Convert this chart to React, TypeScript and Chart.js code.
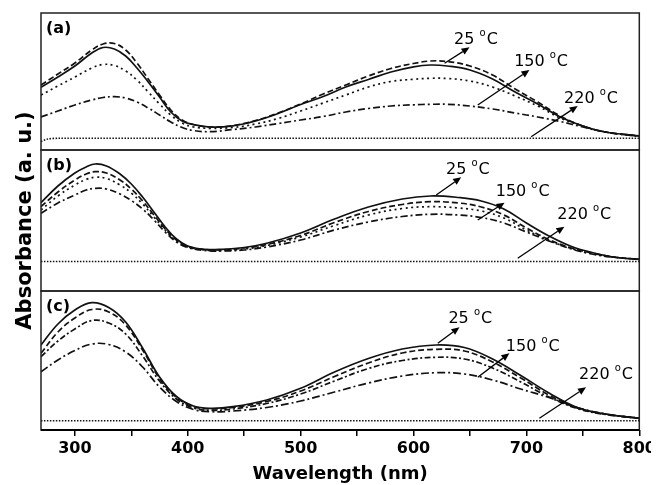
import React, { useEffect, useRef } from "react";
import { Chart, registerables } from "chart.js";

Chart.register(...registerables);

// ---------- data (wavelength in nm, absorbance in a.u.) ----------
const wlA = [270, 285, 300, 315, 325, 335, 345, 355, 365, 375, 385, 395, 405, 420, 440, 460, 480, 500, 520, 540, 560, 580, 600, 615, 630, 650, 670, 690, 710, 730, 750, 770, 800];
const aSolid = [0.627, 0.73, 0.84, 0.97, 1.025, 1.01, 0.94, 0.82, 0.68, 0.53, 0.38, 0.29, 0.255, 0.23, 0.242, 0.29, 0.365, 0.455, 0.535, 0.63, 0.705, 0.78, 0.832, 0.85, 0.84, 0.8, 0.71, 0.58, 0.46, 0.33, 0.24, 0.18, 0.14];
const aDash = [0.65, 0.76, 0.87, 1.0, 1.06, 1.065, 1.0, 0.87, 0.71, 0.55, 0.4, 0.3, 0.255, 0.23, 0.245, 0.295, 0.37, 0.46, 0.56, 0.65, 0.74, 0.815, 0.865, 0.89, 0.885, 0.84, 0.75, 0.61, 0.48, 0.34, 0.24, 0.18, 0.14];
const aDot = [0.55, 0.64, 0.73, 0.82, 0.855, 0.845, 0.79, 0.7, 0.58, 0.46, 0.35, 0.27, 0.23, 0.217, 0.225, 0.26, 0.315, 0.39, 0.47, 0.55, 0.63, 0.685, 0.707, 0.717, 0.715, 0.69, 0.63, 0.54, 0.44, 0.32, 0.24, 0.18, 0.14];
const aDashDot = [0.33, 0.39, 0.45, 0.5, 0.525, 0.533, 0.52, 0.48, 0.42, 0.35, 0.28, 0.225, 0.195, 0.183, 0.205, 0.23, 0.265, 0.3, 0.335, 0.38, 0.415, 0.44, 0.452, 0.457, 0.457, 0.44, 0.41, 0.37, 0.33, 0.285, 0.23, 0.18, 0.135];
const baseWlA = [270, 276, 285, 800];
const baseA = [0.085, 0.11, 0.117, 0.117];

const wlB = [270, 285, 300, 310, 318, 328, 340, 350, 360, 370, 380, 390, 400, 415, 430, 450, 470, 500, 530, 560, 590, 615, 640, 660, 680, 700, 720, 740, 760, 780, 800];
const bSolid = [0.883, 1.05, 1.18, 1.24, 1.27, 1.25, 1.17, 1.07, 0.94, 0.79, 0.64, 0.52, 0.45, 0.417, 0.417, 0.435, 0.477, 0.58, 0.72, 0.84, 0.92, 0.95, 0.935, 0.9, 0.82, 0.68, 0.55, 0.445, 0.38, 0.335, 0.317];
const bDash = [0.843, 0.99, 1.11, 1.17, 1.193, 1.18, 1.11, 1.02, 0.9, 0.76, 0.62, 0.51, 0.445, 0.415, 0.412, 0.43, 0.465, 0.555, 0.685, 0.795, 0.865, 0.893, 0.88, 0.84, 0.76, 0.63, 0.515, 0.43, 0.375, 0.335, 0.317];
const bDot = [0.81, 0.95, 1.06, 1.115, 1.137, 1.125, 1.06, 0.98, 0.87, 0.74, 0.61, 0.5, 0.44, 0.41, 0.405, 0.42, 0.455, 0.54, 0.655, 0.76, 0.825, 0.843, 0.83, 0.8, 0.73, 0.61, 0.505, 0.425, 0.37, 0.335, 0.317];
const bDashDot = [0.777, 0.88, 0.96, 1.01, 1.027, 1.02, 0.97, 0.905, 0.82, 0.71, 0.59, 0.49, 0.435, 0.405, 0.4, 0.41, 0.44, 0.51, 0.61, 0.69, 0.745, 0.767, 0.76, 0.735, 0.68, 0.59, 0.5, 0.42, 0.365, 0.335, 0.317];
const baseWlB = [270, 800];
const baseB = [0.295, 0.295];

const wlC = [270, 285, 300, 315, 330, 345, 360, 375, 390, 405, 420, 440, 470, 500, 530, 560, 590, 620, 645, 670, 695, 720, 745, 770, 800];
const cSolid = [0.85, 1.06, 1.2, 1.273, 1.225, 1.08, 0.82, 0.53, 0.335, 0.24, 0.217, 0.233, 0.3, 0.417, 0.58, 0.715, 0.81, 0.85, 0.825, 0.71, 0.545, 0.37, 0.225, 0.16, 0.117];
const cDash = [0.767, 0.98, 1.12, 1.205, 1.18, 1.05, 0.8, 0.515, 0.325, 0.235, 0.212, 0.225, 0.285, 0.39, 0.535, 0.67, 0.77, 0.807, 0.79, 0.68, 0.52, 0.35, 0.22, 0.16, 0.117];
const cDashDot1 = [0.733, 0.89, 1.01, 1.095, 1.07, 0.96, 0.74, 0.49, 0.31, 0.22, 0.197, 0.21, 0.265, 0.36, 0.49, 0.615, 0.695, 0.727, 0.71, 0.62, 0.48, 0.33, 0.215, 0.155, 0.117];
const cDashDot2 = [0.583, 0.7, 0.795, 0.86, 0.855, 0.78, 0.63, 0.43, 0.285, 0.205, 0.183, 0.19, 0.225, 0.29, 0.38, 0.47, 0.54, 0.573, 0.56, 0.5, 0.41, 0.325, 0.225, 0.16, 0.117];
const baseWlC = [270, 800];
const baseC = [0.093, 0.093];

const xTicks = [300, 400, 500, 600, 700, 800];
const tempLabels = ["25", "150", "220"];
const panelTags = ["(a)", "(b)", "(c)"];

// annotation anchors (data units: [wavelength, absorbance])
type Ann = { from: number[]; to: number[]; text: number[] };
const annA: Ann[] = [
  { from: [627.5, 0.867], to: [649.6, 1.027], text: [655.3, 1.12] },
  { from: [656.9, 0.45], to: [702.7, 0.8], text: [713, 0.903] },
  { from: [704.2, 0.133], to: [745.4, 0.44], text: [757.2, 0.527] },
];
const annB: Ann[] = [
  { from: [620.1, 0.96], to: [642.2, 1.137], text: [648.1, 1.227] },
  { from: [656.9, 0.71], to: [680.6, 0.883], text: [696.7, 1.007] },
  { from: [692.3, 0.327], to: [733.6, 0.643], text: [751.3, 0.777] },
];
const annC: Ann[] = [
  { from: [621.5, 0.867], to: [640.7, 1.027], text: [650.3, 1.125] },
  { from: [656.9, 0.527], to: [684.9, 0.767], text: [705.6, 0.85] },
  { from: [711.5, 0.117], to: [752.8, 0.427], text: [770.5, 0.567] },
];

const FONT = '"DejaVu Sans", "Liberation Sans", Arial, sans-serif';
const INK = "#111";

const panels = [
  { key: "yA", tag: panelTags[0], weight: 137, wl: wlA, series: [aSolid, aDash, aDot, aDashDot], dashes: [[], [6, 3], [2, 3.5], [7, 3, 2, 3]], baseWl: baseWlA, base: baseA, ann: annA },
  { key: "yB", tag: panelTags[1], weight: 141, wl: wlB, series: [bSolid, bDash, bDot, bDashDot], dashes: [[], [6, 3], [2, 3.5], [7, 3, 2, 3]], baseWl: baseWlB, base: baseB, ann: annB },
  { key: "yC", tag: panelTags[2], weight: 139, wl: wlC, series: [cSolid, cDash, cDashDot1, cDashDot2], dashes: [[], [6, 3], [6, 2.5, 2, 2.5], [8, 3, 2, 3]], baseWl: baseWlC, base: baseC, ann: annC },
];

function drawArrow(ctx: CanvasRenderingContext2D, x1: number, y1: number, x2: number, y2: number) {
  const ang = Math.atan2(y2 - y1, x2 - x1);
  const len = 8;
  const hw = 3.5;
  const bx = x2 - len * Math.cos(ang);
  const by = y2 - len * Math.sin(ang);
  ctx.beginPath();
  ctx.moveTo(x1, y1);
  ctx.lineTo(bx, by);
  ctx.stroke();
  ctx.beginPath();
  ctx.moveTo(x2, y2);
  ctx.lineTo(bx + hw * Math.sin(ang), by - hw * Math.cos(ang));
  ctx.lineTo(bx - hw * Math.sin(ang), by + hw * Math.cos(ang));
  ctx.closePath();
  ctx.fill();
}

function drawTemp(ctx: CanvasRenderingContext2D, num: string, cx: number, cy: number) {
  const big = `16px ${FONT}`;
  const small = `10px ${FONT}`;
  ctx.font = big;
  const w1 = ctx.measureText(num + " ").width;
  const wC = ctx.measureText("C").width;
  ctx.font = small;
  const wo = ctx.measureText("o").width;
  const total = w1 + wo + 1 + wC;
  let x = cx - total / 2;
  const base = cy + 5.8;
  ctx.textAlign = "left";
  ctx.textBaseline = "alphabetic";
  ctx.font = big;
  ctx.fillText(num + " ", x, base);
  x += w1;
  ctx.font = small;
  ctx.fillText("o", x, base - 8);
  x += wo + 1;
  ctx.font = big;
  ctx.fillText("C", x, base);
}

const overlay = {
  id: "overlay",
  afterDatasetsDraw(chart: any) {
    const ctx: CanvasRenderingContext2D = chart.ctx;
    const area = chart.chartArea;
    const xs = chart.scales.x;
    ctx.save();
    ctx.strokeStyle = "#222";
    ctx.fillStyle = "#000";
    for (const p of panels) {
      const ys = chart.scales[p.key];
      ctx.setLineDash([]);
      ctx.lineWidth = 1.5;
      ctx.strokeStyle = "#222";
      ctx.strokeRect(area.left, ys.top, area.right - area.left, ys.bottom - ys.top);
      ctx.font = `bold 16px ${FONT}`;
      ctx.textAlign = "left";
      ctx.textBaseline = "alphabetic";
      ctx.fillText(p.tag, area.left + 5, ys.top + 20);
      ctx.lineWidth = 1.3;
      ctx.strokeStyle = "#000";
      p.ann.forEach((a, i) => {
        drawArrow(
          ctx,
          xs.getPixelForValue(a.from[0]),
          ys.getPixelForValue(a.from[1]),
          xs.getPixelForValue(a.to[0]),
          ys.getPixelForValue(a.to[1])
        );
        drawTemp(ctx, tempLabels[i], xs.getPixelForValue(a.text[0]), ys.getPixelForValue(a.text[1]));
      });
    }
    ctx.strokeStyle = "#000";
    ctx.lineWidth = 2.2;
    ctx.beginPath();
    ctx.moveTo(area.left, area.bottom);
    ctx.lineTo(area.right, area.bottom);
    ctx.stroke();
    ctx.restore();
  },
};

export default function App() {
  const ref = useRef<HTMLCanvasElement>(null);
  useEffect(() => {
    const canvas = ref.current;
    if (!canvas) return;
    const datasets: any[] = [];
    for (const p of panels) {
      datasets.push({
        data: p.baseWl.map((x, i) => ({ x, y: p.base[i] })),
        yAxisID: p.key,
        borderColor: INK,
        borderWidth: 1.6,
        borderDash: [1.5, 1.5],
        pointRadius: 0,
        tension: 0.3,
        fill: false,
      });
      p.series.forEach((s, k) => {
        datasets.push({
          data: p.wl.map((x, i) => ({ x, y: s[i] })),
          yAxisID: p.key,
          borderColor: INK,
          borderWidth: 1.7,
          borderDash: p.dashes[k],
          pointRadius: 0,
          tension: 0.4,
          fill: false,
        });
      });
    }
    const scales: any = {
      x: {
        type: "linear",
        position: "bottom",
        min: 270,
        max: 800,
        afterFit: (s: any) => {
          s.height = 55;
        },
        ticks: {
          stepSize: 50,
          includeBounds: false,
          autoSkip: false,
          maxRotation: 0,
          padding: 3,
          color: "#000",
          font: { family: FONT, size: 16, weight: "bold" },
          callback: (v: any) => (xTicks.includes(Number(v)) ? String(v) : ""),
        },
        grid: { drawOnChartArea: false, drawTicks: true, tickLength: 6, color: "#000", lineWidth: 1.5 },
        border: { display: false },
        title: {
          display: true,
          text: "Wavelength (nm)",
          color: "#000",
          font: { family: FONT, size: 18, weight: "bold" },
          padding: { top: 0, bottom: 0 },
        },
      },
    };
    // left stacked axes: the last defined is placed on top
    [...panels].reverse().forEach((p) => {
      scales[p.key] = {
        type: "linear",
        axis: "y",
        position: "left",
        stack: "panels",
        stackWeight: p.weight,
        min: 0,
        max: p.weight / 100,
        afterFit: (s: any) => {
          s.width = 33;
        },
        ticks: { display: false },
        grid: { display: false },
        border: { display: false },
        title: {
          display: p.key === "yB",
          text: "Absorbance (a. u.)",
          color: "#000",
          font: { family: FONT, size: 21, weight: "bold" },
          padding: { top: 5, bottom: 0 },
        },
      };
    });
    const chart = new Chart(canvas, {
      type: "line",
      data: { datasets },
      options: {
        responsive: false,
        animation: false,
        events: [],
        layout: { padding: { top: 5, right: 19, left: 0, bottom: 0 } },
        plugins: { legend: { display: false }, tooltip: { enabled: false } },
        scales,
      },
      plugins: [overlay],
    } as any);
    return () => chart.destroy();
  }, []);
  return (
    <div style={{ width: 651, height: 477 }}>
      <canvas ref={ref} width={651} height={477} style={{ display: "block" }} />
    </div>
  );
}
